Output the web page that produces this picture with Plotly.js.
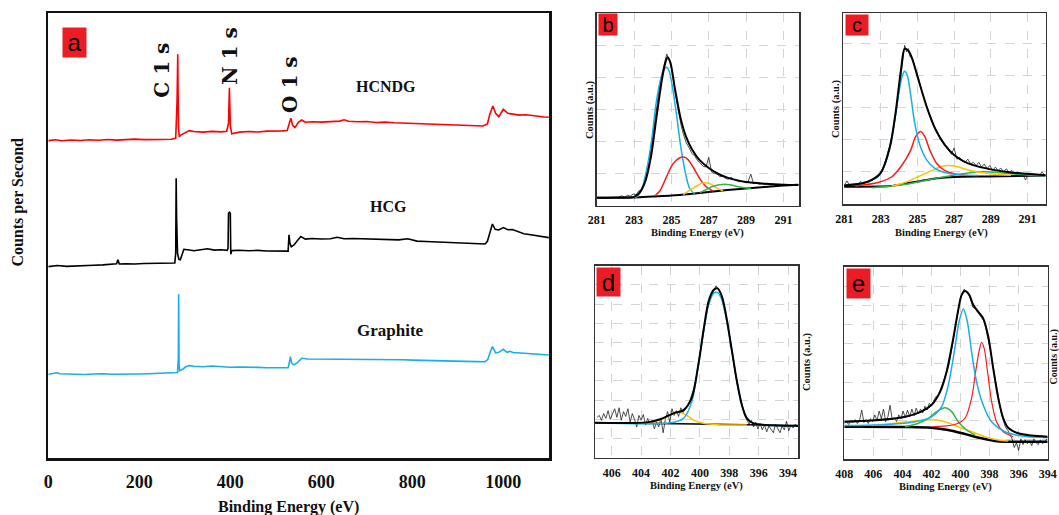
<!DOCTYPE html>
<html>
<head>
<meta charset="utf-8">
<script src="https://cdn.plot.ly/plotly-3.0.1.min.js"></script>
<style>html,body{margin:0;padding:0;background:#fff;}#chart{width:1059px;height:515px;}</style>
</head>
<body>
<div id="chart"></div>
<script>
// ---------------- Panel a : XPS survey spectra ----------------
const surveyTicks = [0, 200, 400, 600, 800, 1000];
const hcndgE = [0,15,30,50,70,90,110,130,150,170,190,210,230,250,270,280,283,284.5,286,288,292,300,310,320,340,360,380,392,396,398,400,403,420,440,460,480,500,515,525,530,533,537,542,550,557,565,580,600,620,640,650,660,680,700,720,740,760,780,800,820,840,860,880,900,920,940,955,965,970,977,983,990,1000,1010,1020,1035,1050,1065,1080,1090,1100];
const hcndgV = [317.7,318.5,317.5,318.3,317.8,318.6,318.0,318.8,318.2,318.6,319.2,318.7,319.1,318.8,319.0,320,358,404,331,321.5,323.5,325.5,327.7,326.8,326.2,326.9,326.4,327,335,370.5,333,324.5,326.2,326.8,326.3,327.2,326.9,327.4,327.8,335,340,333,330.7,336.3,338.3,336,336.5,336.2,336.8,337.2,338.5,337,336.6,336.8,335.8,336.2,335.5,335.2,334.6,334.9,334.2,333.8,334,333.4,333.1,332.6,332.3,334.3,343.5,352.3,345,341.7,349,345,344,343.2,343.5,342.5,342,341.3,341];
const hcgE = [0,20,40,60,80,100,120,140,150,153,156,170,190,210,230,250,270,278,280,281,282,284,287,290,294,298,310,320,335,350,365,380,393,395,396,398,400,401,403,420,440,460,480,500,515,527,529,531,534,540,548,555,565,580,600,620,635,650,670,690,710,730,750,770,790,810,830,850,870,890,910,930,950,960,965,970,976,982,990,1000,1010,1020,1030,1045,1060,1075,1090,1100];
const hcgV = [191.7,192.8,191.9,192.2,192.0,193.0,193.4,193.8,194.5,198.5,194.3,194.6,194.3,194.8,195.0,195.1,195.2,195.3,205,280,240,205,199,198.5,205,209,208.3,207.6,208.6,209.6,208.2,208.5,208,210,245,246,245,204,207.7,208,207.6,207.9,207.3,207.2,207.0,207.2,223.5,215,211.5,213.3,218,221.7,219.2,219.8,219.3,219.6,221,219.5,219.8,219.4,219.2,218.6,218.2,218.4,219.5,217.2,216.8,216.4,216,215.6,215.2,214.8,214.4,214.3,217,226,234.3,229,228.3,230.7,228.5,228.8,227,224.5,223.5,222.3,221.5,220.7];
const graphiteE = [0,10,20,25,40,60,80,100,120,140,160,180,200,220,240,260,275,284,285.8,286.5,287.3,288.5,295,302,310,320,340,360,380,400,420,440,460,480,500,515,527,530,532,535,540,548,557,570,600,630,660,700,740,780,800,820,850,880,910,940,960,966,971,976,983,990,1000,1008,1015,1022,1030,1045,1060,1080,1100];
const graphiteV = [84,84.6,85.5,84.5,84.2,84.5,83.8,84.3,84.6,84.1,84.4,84.7,84.3,84.5,84.8,84.6,85,85.7,100,164,95,87.5,89,91.5,92.7,92,91.6,92.3,91.4,91.1,91.3,90.8,90.9,90.6,90.5,90.3,90.5,96,101.7,95,93.5,96,100,99.3,99.2,99.4,99.6,99.5,99.1,98.6,98.2,97.9,97.7,97.2,96.9,96.7,96.6,99,106,111.7,105.5,106,109,106,107,105.5,105.6,105,104.6,103.8,103.3];
const surveyNames = ['HCNDG', 'HCG', 'Graphite'];
const peakNames = ['C 1 s', 'N 1 s', 'O 1 s'];

// ---------------- Panel b : C 1s of HCG ----------------
const c1sTicks = [281, 283, 285, 287, 289, 291];
const bRawE = [282.2,282.35,282.5,282.65,282.8,282.95,283.1,283.25,283.4,283.55,283.7,283.85,284.0,284.15,284.3,284.45,284.6,284.75,284.9,285.05,285.2,285.35,285.5,285.65,285.8,285.95,286.1,286.25,286.4,286.55,286.7,286.85,287.0,287.15,287.3,287.45,287.6,287.75,287.9,288.05,288.2,288.35,288.5,288.65,288.8,288.95,289.1,289.25,289.4,289.55,289.7,289.85,290.0,290.15,290.3,290.45,290.6,290.75,290.9,291.05,291.2,291.35,291.5,291.65,291.8];
const bRawV = [0.27,0.3,0.26,0.32,0.29,0.36,0.33,0.45,0.5,0.72,1.05,1.5,2.15,2.85,3.45,4.0,4.4,4.72,4.5,4.15,3.55,3.0,2.55,2.2,1.95,1.8,1.62,1.55,1.4,1.32,1.22,1.2,1.5,1.05,1.0,0.98,0.9,0.92,0.84,0.82,0.88,0.8,0.78,0.74,0.76,0.72,0.73,0.98,0.68,0.7,0.66,0.68,0.65,0.69,0.64,0.67,0.63,0.66,0.62,0.66,0.63,0.65,0.62,0.66,0.64];
const bEnvE = [281,282,283,283.3,283.6,283.9,284.2,284.5,284.7,284.8,284.95,285.2,285.5,285.8,286.1,286.5,287,287.5,288,288.5,289,290,291,291.8];
const bEnvV = [0.24,0.25,0.27,0.4,0.75,1.5,2.75,3.95,4.5,4.62,4.45,3.6,2.7,2.12,1.75,1.42,1.17,0.99,0.87,0.79,0.73,0.68,0.65,0.64];
const bBgE = [281,283,284,285,286,287,288,289,290,291,291.8];
const bBgV = [0.24,0.25,0.28,0.31,0.36,0.42,0.48,0.53,0.58,0.62,0.65];
const bBlueE = [283.0,283.14,283.4,283.67,283.94,284.2,284.47,284.6,284.74,284.88,285.06,285.27,285.48,285.72,285.98,286.25];
const bBlueV = [0.25,0.27,0.48,1.1,2.03,3.26,4.04,4.24,4.31,4.19,3.68,2.85,1.92,1.1,0.53,0.36];
const bRedE = [284.11,284.38,284.74,285.09,285.45,285.68,285.89,286.16,286.52,286.87,287.23];
const bRedV = [0.3,0.45,0.9,1.3,1.49,1.51,1.43,1.2,0.84,0.58,0.45];
const bYellowE = [285.63,285.98,286.34,286.6,286.87,287.14,287.4,287.76];
const bYellowV = [0.34,0.48,0.6,0.69,0.71,0.66,0.56,0.46];
const bGreenE = [286.52,286.87,287.23,287.58,287.85,288.12,288.47,288.83,289.27];
const bGreenV = [0.4,0.5,0.6,0.65,0.66,0.65,0.6,0.56,0.53];

// ---------------- Panel c : C 1s of HCNDG ----------------
const cRawE = [281.0,281.15,281.3,281.45,281.6,281.75,281.9,282.05,282.2,282.35,282.5,282.65,282.8,282.95,283.1,283.25,283.4,283.55,283.7,283.85,284.0,284.15,284.3,284.4,284.5,284.6,284.75,284.9,285.05,285.2,285.35,285.5,285.65,285.8,285.95,286.1,286.25,286.4,286.55,286.7,286.85,287.0,287.15,287.3,287.45,287.6,287.75,287.9,288.05,288.2,288.35,288.5,288.65,288.8,288.95,289.1,289.25,289.4,289.55,289.7,289.85,290.0,290.15,290.3,290.45,290.6,290.75,290.9,291.05,291.2,291.35,291.5,291.65,291.8,291.95];
const cRawV = [0.58,0.72,0.57,0.6,0.58,0.62,0.7,0.63,0.66,0.68,0.73,0.78,0.85,0.95,1.1,1.35,1.62,1.95,2.4,2.9,3.55,4.3,4.95,4.75,4.85,4.6,4.5,4.2,3.95,3.6,3.3,3.05,2.8,2.55,2.35,2.2,2.05,1.9,1.8,1.7,1.55,1.75,1.4,1.45,1.35,1.3,1.4,1.25,1.3,1.2,1.3,1.15,1.25,1.1,1.2,1.05,1.15,1.05,1.12,1.0,1.1,0.98,1.05,0.95,1.0,0.95,0.92,0.75,0.93,0.9,0.92,0.9,0.88,1.0,0.9];
const cEnvE = [281,282,282.5,283,283.5,283.8,284.1,284.3,284.5,284.7,285,285.5,286,286.5,287,287.5,288,289,290,291,292];
const cEnvV = [0.58,0.65,0.75,0.98,1.79,2.83,4.19,4.85,4.78,4.55,3.98,3.04,2.31,1.84,1.53,1.34,1.22,1.08,0.99,0.94,0.9];
const cBgE = [281,283.5,284.3,285.2,286.1,287.0,288.85,292];
const cBgV = [0.54,0.56,0.63,0.72,0.8,0.84,0.86,0.89];
const cBlueE = [281.04,282.1,282.85,283.3,283.67,283.95,284.16,284.3,284.45,284.64,284.85,285.13,285.5,285.95,286.5,287.2,288.3];
const cBlueV = [0.59,0.67,0.85,1.375,2.31,3.35,3.98,4.14,4.0,3.35,2.52,1.84,1.375,1.11,0.98,0.91,0.89];
const cRedE = [281.6,282.85,283.6,284.1,284.6,284.9,285.18,285.4,285.67,286.04,286.5,287.04,287.76];
const cRedV = [0.56,0.67,0.85,1.17,1.64,2.1,2.26,2.1,1.69,1.27,1.04,0.94,0.89];
const cYellowE = [283.6,284.3,285.04,285.76,286.3,286.7,287.13,287.76,288.5,289.2,290.1];
const cYellowV = [0.56,0.67,0.85,1.04,1.17,1.2,1.17,1.06,0.98,0.93,0.9];
const cGreenE = [282.5,284.3,285.76,286.85,287.76,288.5,289.2,290.1,291.2,291.95];
const cGreenV = [0.51,0.61,0.77,0.89,0.97,1.01,0.99,0.94,0.9,0.89];

// ---------------- Panel d : N 1s of HCG ----------------
const n1sTicksD = [406, 404, 402, 400, 398, 396, 394];
const dRawE = [407.0,406.85,406.7,406.55,406.4,406.25,406.1,405.95,405.8,405.65,405.5,405.35,405.2,405.05,404.9,404.75,404.6,404.45,404.3,404.15,404.0,403.85,403.7,403.55,403.4,403.25,403.1,402.95,402.8,402.65,402.5,402.35,402.2,402.05,401.9,401.75,401.6,401.45,401.3,401.15,401.0,400.85,400.7,400.55,400.4,400.25,400.1,399.95,399.8,399.65,399.5,399.35,399.2,399.05,398.9,398.75,398.6,398.45,398.3,398.15,398.0,397.85,397.7,397.55,397.4,397.25,397.1,396.95,396.8,396.65,396.5,396.35,396.2,396.05,395.9,395.75,395.6,395.45,395.3,395.15,395.0,394.85,394.7,394.55,394.4,394.25,394.1,393.95,393.8,393.65,393.5,393.35];
const dRawV = [2.1,2.2,1.95,2.3,2.05,2.45,2.0,2.3,2.55,2.1,2.6,1.95,2.4,2.15,2.55,1.85,2.3,2.0,1.6,2.2,1.95,2.25,1.7,2.05,1.75,1.95,1.5,1.85,1.6,2.05,1.3,2.0,2.4,1.85,2.55,2.2,2.45,2.15,2.6,2.35,2.55,2.75,2.9,3.3,3.6,4.2,4.9,5.6,6.4,7.1,7.7,8.2,8.5,8.7,8.95,8.75,8.6,8.2,7.7,7.1,6.4,5.6,4.9,4.2,3.6,3.0,2.6,2.2,1.95,1.75,1.95,1.6,1.85,1.5,1.8,1.45,1.7,1.35,1.65,1.5,1.3,1.75,1.5,1.3,1.65,1.45,1.9,1.4,1.7,1.55,1.75,1.6];
const dEnvE = [407.14,403.61,402.7,401.8,401.11,400.55,400.09,399.75,399.41,399.07,398.8,398.5,398.16,397.82,397.48,397.14,396.8,396.34,393.27];
const dEnvV = [1.82,1.84,2.0,2.31,2.48,3.13,4.91,6.65,8.13,8.73,8.82,8.4,7.17,5.56,3.99,2.74,2.05,1.79,1.67];
const dBgE = [407.14,400.2,393.27];
const dBgV = [1.82,1.75,1.67];
const dBlueE = [407.14,402.0,401.11,400.55,400.1,399.75,399.41,399.07,398.8,398.5,398.16,397.8,397.48,397.14,396.8,396.34,393.27];
const dBlueV = [1.82,1.82,2.05,2.92,4.83,6.56,7.95,8.56,8.61,8.21,7.08,5.52,3.96,2.74,2.05,1.79,1.67];
const dYellowE = [403.61,402.7,402.02,401.45,401.0,400.43,399.75,398.84,396.8];
const dYellowV = [1.82,1.96,2.22,2.36,2.26,1.96,1.79,1.72,1.7];

// ---------------- Panel e : N 1s of HCNDG ----------------
const n1sTicksE = [408, 406, 404, 402, 400, 398, 396, 394];
const eRawE = [408.0,407.85,407.7,407.55,407.4,407.25,407.1,406.95,406.8,406.65,406.5,406.35,406.2,406.05,405.9,405.75,405.6,405.45,405.3,405.15,405.0,404.85,404.7,404.55,404.4,404.25,404.1,403.95,403.8,403.65,403.5,403.35,403.2,403.05,402.9,402.75,402.6,402.45,402.3,402.15,402.0,401.85,401.7,401.55,401.4,401.25,401.1,400.95,400.8,400.65,400.5,400.35,400.2,400.05,399.9,399.75,399.6,399.45,399.3,399.15,399.0,398.85,398.7,398.55,398.4,398.25,398.1,397.95,397.8,397.65,397.5,397.35,397.2,397.05,396.9,396.75,396.6,396.45,396.3,396.15,396.0,395.85,395.7,395.55,395.4,395.25,395.1,394.95,394.8,394.65,394.5,394.35,394.2,394.05];
const eRawV = [1.85,1.95,1.8,2.0,1.9,2.05,1.85,2.0,2.55,1.9,2.05,1.85,2.1,1.95,2.3,2.0,2.5,2.1,2.6,1.95,2.2,2.8,2.05,2.15,1.95,2.3,2.1,2.5,2.15,2.55,2.2,2.6,2.25,2.65,2.35,2.6,2.4,2.75,2.55,2.9,2.8,3.0,3.25,3.3,3.6,3.85,4.1,4.5,4.9,5.6,6.3,6.9,7.6,8.2,8.6,8.85,8.7,8.6,8.3,7.9,7.85,7.7,7.55,7.4,7.2,6.8,6.3,5.7,5.0,4.3,3.6,2.95,2.4,2.0,1.65,1.5,1.3,1.05,0.6,0.85,0.45,1.05,0.75,1.0,0.8,0.95,0.7,1.05,0.85,0.75,1.0,0.8,0.9,1.05];
const eEnvE = [408,406.1,403.8,402.7,402.0,401.4,400.96,400.5,400.16,399.93,399.7,399.42,399.12,398.78,398.44,398.09,397.75,397.4,397.06,396.72,396.03,395.11,394];
const eEnvV = [1.94,2.0,2.2,2.47,2.81,3.51,4.55,6.28,7.76,8.54,8.75,8.58,8.02,7.67,7.33,6.37,4.72,3.16,2.12,1.63,1.34,1.22,1.16];
const eBgE = [408,403.8,402.0,400.85,399.7,398.55,397.63,396.94,394];
const eBgV = [1.68,1.67,1.63,1.51,1.3,1.08,0.94,0.9,0.9];
const eBlueE = [408,405.0,403.14,402.0,401.3,400.84,400.43,400.1,399.81,399.53,399.24,398.9,398.44,397.86,396.94,395.8,394];
const eBlueV = [1.74,1.8,1.94,2.2,2.73,3.85,5.59,7.15,7.81,7.15,5.59,4.03,2.81,1.94,1.42,1.2,1.11];
const eRedE = [402.0,400.39,399.7,399.24,398.96,398.73,398.55,398.37,398.14,397.86,397.52,397.06,396.37];
const eRedV = [1.68,1.8,2.12,3.16,4.55,5.59,6.08,5.76,4.55,2.99,1.94,1.42,1.16];
const eGreenE = [403.83,402.9,402.22,401.65,401.07,400.61,400.16,399.58,399.0];
const eGreenV = [1.68,1.86,2.12,2.47,2.67,2.47,1.94,1.51,1.25];
const eYellowE = [406.12,404.51,403.14,402.22,401.65,400.96,400.16,399.24,398.32,397.4,396.72];
const eYellowV = [1.74,1.86,1.98,2.05,2.03,1.91,1.68,1.42,1.16,0.99,0.94];

const panelLetters = ['a', 'b', 'c', 'd', 'e'];
const xTitle = 'Binding Energy (eV)';
const yTitleSurvey = 'Counts per Second';
const yTitleHR = 'Counts (a.u.)';

// ---------------- styling / layout ----------------
const W = 1059, H = 515;
const COL = {red: '#ff1a1a', black: '#000000', blue: '#1aaee6', yellow: '#ffc000', green: '#33b54a'};
const SERIF = 'Liberation Serif, Times New Roman, serif';
const px = v => v / W;
const pyv = v => 1 - v / H;
const domX = (l, r) => [px(l), px(r)];
const domY = (t, b) => [pyv(b), pyv(t)];

function line(x, y, xa, ya, color, width, spline) {
  return {type: 'scatter', mode: 'lines', x: x, y: y, xaxis: xa, yaxis: ya,
    line: {color: color, width: width, shape: spline ? 'spline' : 'linear', smoothing: 0.8},
    hoverinfo: 'skip', showlegend: false};
}

const traces = [
  line(hcndgE, hcndgV, 'x', 'y', '#ff0000', 1.6, false),
  line(hcgE, hcgV, 'x', 'y', '#000000', 1.6, false),
  line(graphiteE, graphiteV, 'x', 'y', '#1aaee6', 1.6, false),

  line(bRawE, bRawV, 'x2', 'y2', '#222', 0.8, false),
  line(bBgE, bBgV, 'x2', 'y2', '#000', 2, true),
  line(bBlueE, bBlueV, 'x2', 'y2', COL.blue, 1.5, true),
  line(bRedE, bRedV, 'x2', 'y2', COL.red, 1.5, true),
  line(bYellowE, bYellowV, 'x2', 'y2', COL.yellow, 1.5, true),
  line(bGreenE, bGreenV, 'x2', 'y2', COL.green, 1.5, true),
  line(bEnvE, bEnvV, 'x2', 'y2', '#000', 2, true),

  line(cRawE, cRawV, 'x3', 'y3', '#222', 0.8, false),
  line(cBgE, cBgV, 'x3', 'y3', '#000', 2, true),
  line(cGreenE, cGreenV, 'x3', 'y3', COL.green, 1.5, true),
  line(cYellowE, cYellowV, 'x3', 'y3', COL.yellow, 1.5, true),
  line(cRedE, cRedV, 'x3', 'y3', COL.red, 1.5, true),
  line(cBlueE, cBlueV, 'x3', 'y3', COL.blue, 1.5, true),
  line(cEnvE, cEnvV, 'x3', 'y3', '#000', 2, true),

  line(dRawE, dRawV, 'x4', 'y4', '#222', 0.8, false),
  line(dBgE, dBgV, 'x4', 'y4', '#000', 1.5, true),
  line(dYellowE, dYellowV, 'x4', 'y4', COL.yellow, 1.5, true),
  line(dBlueE, dBlueV, 'x4', 'y4', COL.blue, 1.5, true),
  line(dEnvE, dEnvV, 'x4', 'y4', '#000', 2, true),

  line(eRawE, eRawV, 'x5', 'y5', '#222', 0.8, false),
  line(eBgE, eBgV, 'x5', 'y5', '#000', 2.5, true),
  line(eYellowE, eYellowV, 'x5', 'y5', COL.yellow, 1.5, true),
  line(eGreenE, eGreenV, 'x5', 'y5', COL.green, 1.5, true),
  line(eRedE, eRedV, 'x5', 'y5', COL.red, 1.2, true),
  line(eBlueE, eBlueV, 'x5', 'y5', COL.blue, 1.5, true),
  line(eEnvE, eEnvV, 'x5', 'y5', '#000', 2, true)
];

function hrX(domain, range, ticks, anchor) {
  return {domain: domain, range: range, tickvals: ticks, ticktext: ticks.map(String),
    ticks: 'outside', ticklen: 3, tickcolor: 'rgba(0,0,0,0)',
    showgrid: true, gridcolor: '#d4d4d4', griddash: 'dash', gridwidth: 1,
    zeroline: false, showline: true, mirror: true, linecolor: '#333', linewidth: 1.5,
    tickfont: {family: SERIF, size: 12, weight: 700, color: '#111'}, anchor: anchor, fixedrange: true};
}
function hrY(domain, range, anchor) {
  return {domain: domain, range: range, tick0: 0, dtick: 1, showticklabels: false, ticks: '',
    showgrid: true, gridcolor: '#d4d4d4', griddash: 'dash', gridwidth: 1,
    zeroline: false, showline: true, mirror: true, linecolor: '#333', linewidth: 1.5,
    anchor: anchor, fixedrange: true};
}

function ann(text, x, y, size, extra) {
  return Object.assign({text: text, x: px(x), y: pyv(y), xref: 'paper', yref: 'paper',
    xanchor: 'center', yanchor: 'middle', showarrow: false,
    font: {family: SERIF, size: size, weight: 700, color: '#111'}}, extra || {});
}
function letterBox(text, x, y, w, h, size) {
  return {text: text, x: px(x), y: pyv(y), xref: 'paper', yref: 'paper', xanchor: 'center', yanchor: 'middle',
    showarrow: false, bgcolor: '#ec1c24', width: w, height: h, borderpad: 0, valign: 'middle',
    font: {family: 'Liberation Sans, Arial, sans-serif', size: size, color: '#000'}};
}

const annotations = [
  letterBox(panelLetters[0], 74, 42, 23, 29, 24),
  letterBox(panelLetters[1], 608.3, 24.5, 18, 21, 20),
  letterBox(panelLetters[2], 856.7, 25, 22, 20, 20),
  letterBox(panelLetters[3], 608.7, 281.7, 23, 28, 24),
  letterBox(panelLetters[4], 858.7, 283, 23, 29, 24),

  ann(peakNames[0], 161.7, 70, 21, {textangle: -90, font: {family: 'DejaVu Serif, serif', size: 20, weight: 700, color: '#111'}}),
  ann(peakNames[1], 230, 56.7, 21, {textangle: -90, font: {family: 'DejaVu Serif, serif', size: 20, weight: 700, color: '#111'}}),
  ann(peakNames[2], 290, 85, 21, {textangle: -90, font: {family: 'DejaVu Serif, serif', size: 20, weight: 700, color: '#111'}}),
  ann(surveyNames[0], 385.5, 86.5, 16),
  ann(surveyNames[1], 388, 206.7, 16),
  ann(surveyNames[2], 390, 330, 17),

  ann(xTitle, 288.7, 506.7, 16),
  ann(yTitleSurvey, 17.9, 201.7, 16, {textangle: -90}),

  ann(xTitle, 697.3, 233.3, 10.5),
  ann(yTitleHR, 590, 110, 10.5, {textangle: -90}),
  ann(xTitle, 941.7, 233.3, 10.5),
  ann(yTitleHR, 836.7, 108.3, 10.5, {textangle: -90}),
  ann(xTitle, 696.7, 485.7, 10.5),
  ann(xTitle, 945, 487.3, 10.5),
  ann(yTitleHR, 807, 362, 10.5, {textangle: -90}),
  ann(yTitleHR, 1053.5, 357, 10, {textangle: -90})
];

const layout = {
  width: W, height: H, margin: {l: 0, r: 0, t: 0, b: 0},
  paper_bgcolor: '#fff', plot_bgcolor: '#fff', showlegend: false,
  xaxis: {domain: domX(48.3, 549.3), range: [0, 1101], tickvals: surveyTicks, ticktext: surveyTicks.map(String),
    ticks: 'outside', ticklen: 6, tickcolor: 'rgba(0,0,0,0)', showgrid: false, zeroline: false,
    showline: true, mirror: true, linecolor: '#111', linewidth: 2.5,
    tickfont: {family: SERIF, size: 18, weight: 700, color: '#111'}, anchor: 'y', fixedrange: true},
  yaxis: {domain: domY(13, 458.3), range: [0, 445.3], showticklabels: false, ticks: '', showgrid: false,
    zeroline: false, showline: true, mirror: true, linecolor: '#111', linewidth: 2.5, anchor: 'x', fixedrange: true},
  xaxis2: hrX(domX(596.7, 799.3), [281, 291.85], c1sTicks, 'y2'),
  yaxis2: hrY(domY(13, 205.5), [0, 6], 'x2'),
  xaxis3: hrX(domX(843.3, 1045.7), [280.95, 292], c1sTicks, 'y3'),
  yaxis3: hrY(domY(13.3, 204), [0, 5.95], 'x3'),
  xaxis4: hrX(domX(595, 798.3), [407.14, 393.3], n1sTicksD, 'y4'),
  yaxis4: hrY(domY(265.7, 457.7), [0, 10], 'x4'),
  xaxis5: hrX(domX(844.3, 1047.7), [408, 394], n1sTicksE, 'y5'),
  yaxis5: hrY(domY(266.7, 459), [0, 10.02], 'x5'),
  annotations: annotations
};

Plotly.newPlot('chart', traces, layout, {staticPlot: true, displayModeBar: false});
</script>
</body>
</html>
